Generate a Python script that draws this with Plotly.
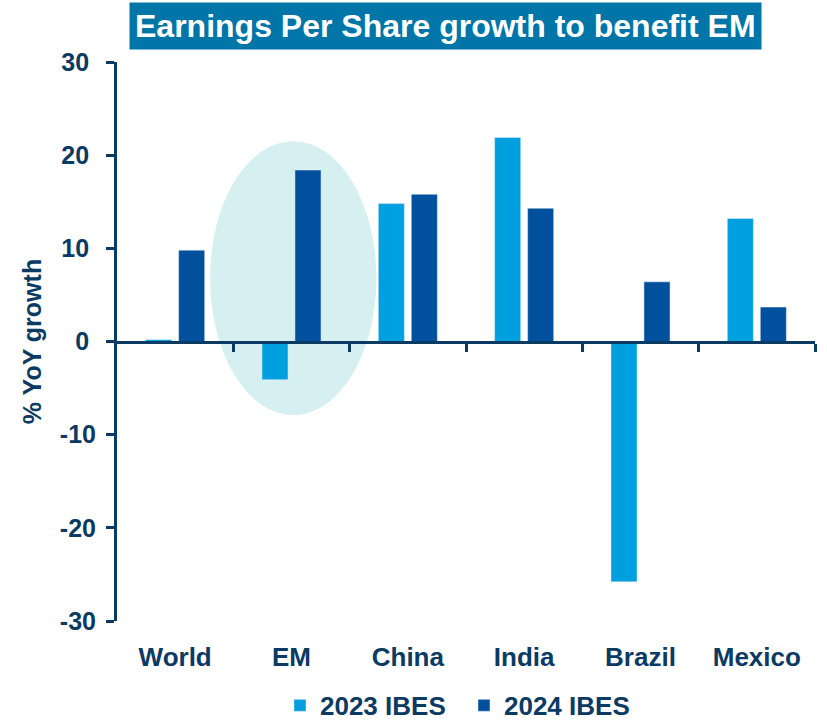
import plotly.graph_objects as go

categories = ["World", "EM", "China", "India", "Brazil", "Mexico"]
eps_2023 = [0.2, -4.1, 14.8, 21.9, -25.8, 13.2]
eps_2024 = [9.8, 18.4, 15.8, 14.3, 6.4, 3.7]
y_ticks = [-30, -20, -10, 0, 10, 20, 30]
y_ticktext = [("%d" % v) if v < 0 else ("%d\u00a0" % v) for v in y_ticks]

NAVY = "#0B3A62"
LIGHT = "#009FDF"
DARK = "#00509E"
FONT = "Liberation Sans, Arial, sans-serif"

fig = go.Figure()
fig.add_trace(go.Bar(x=categories, y=eps_2023, name="2023 IBES", marker_color=LIGHT))
fig.add_trace(go.Bar(x=categories, y=eps_2024, name="2024 IBES", marker_color=DARK))
# invisible trace to activate the zero-line axis with boundary ticks
fig.add_trace(go.Scatter(x=[0], y=[0], xaxis="x2", mode="markers",
                         marker=dict(opacity=0), showlegend=False, hoverinfo="skip"))

fig.add_shape(type="circle", xref="x", yref="y", x0=0.30, x1=1.73, y0=-7.9, y1=21.5,
              fillcolor="#D6F0F1", line=dict(width=0), layer="below")

fig.update_layout(
    width=827, height=721,
    margin=dict(l=117, r=12, t=62, b=100, autoexpand=False),
    paper_bgcolor="white", plot_bgcolor="white",
    font=dict(family=FONT, color=NAVY, size=22),
    barmode="group", bargap=0.433, bargroupgap=0.21,
    showlegend=True,
    legend=dict(orientation="h", x=0.2335, xanchor="left", y=-0.151, yanchor="middle",
                font=dict(size=26, family=FONT, color=NAVY, weight="bold"),
                itemwidth=30, entrywidth=139, entrywidthmode="pixels",
                traceorder="normal"),
    xaxis=dict(showline=False, ticks="", showgrid=False, zeroline=False, automargin=False,
               tickfont=dict(size=26, family=FONT, color=NAVY, weight="bold"),
               ticklabelstandoff=18, range=[-0.5, 5.5]),
    xaxis2=dict(overlaying="x", anchor="free", position=0.5, range=[-0.5, 5.5],
                showline=True, linecolor=NAVY, linewidth=3, ticks="outside",
                tickvals=[0.5, 1.5, 2.5, 3.5, 4.5, 5.5], ticklen=8, tickwidth=3,
                tickcolor=NAVY, showticklabels=False, showgrid=False, zeroline=False),
    yaxis=dict(range=[-30, 30], tickvals=y_ticks, ticktext=y_ticktext,
               showgrid=False, zeroline=False, automargin=False,
               showline=True, linecolor=NAVY, linewidth=3, ticks="outside",
               ticklen=8, tickwidth=3, tickcolor=NAVY, ticklabelstandoff=5,
               tickfont=dict(size=25, family=FONT, color=NAVY, weight="bold"),
               title=dict(text="% YoY growth", standoff=12,
                          font=dict(size=25, family=FONT, color=NAVY, weight="bold"))),
)

fig.add_annotation(text="<b>Earnings Per Share growth to benefit EM</b>",
                   xref="paper", yref="paper", x=0.4713, y=1.0644,
                   xanchor="center", yanchor="middle", showarrow=False,
                   bgcolor="#0075A8", borderpad=5,
                   font=dict(size=32, family=FONT, color="white"))

fig.write_html("out.html", config={"displayModeBar": False},
               post_script="document.body.style.margin='0';document.body.style.overflow='hidden';")
